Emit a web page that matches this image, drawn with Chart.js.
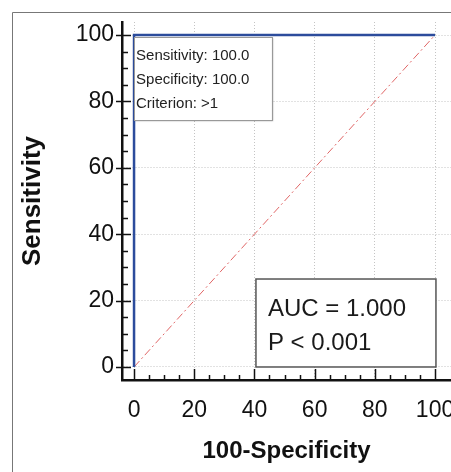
<!DOCTYPE html>
<html>
<head>
<meta charset="utf-8">
<script src="https://cdn.jsdelivr.net/npm/chart.js@4"></script>
<style>
  html, body { margin: 0; padding: 0; background: #fff; }
  #roc { display: block; }
</style>
</head>
<body>
<canvas id="roc" width="451" height="472"></canvas>
<script>
const xTicks = [0, 20, 40, 60, 80, 100];
const yTicks = [0, 20, 40, 60, 80, 100];
const rocX = [0, 0, 100];
const rocY = [0, 100, 100];
const refX = [0, 100];
const refY = [0, 100];
const statLines = ['Sensitivity: 100.0', 'Specificity: 100.0', 'Criterion: >1'];
const aucLines = ['AUC = 1.000', 'P < 0.001'];

const FONT = '"Liberation Sans", Arial, Helvetica, sans-serif';
Chart.defaults.font.family = FONT;
Chart.defaults.color = '#111';

const toPoints = (xs, ys) => xs.map((x, i) => ({ x, y: ys[i] }));

// frame, inward tick marks and the two text boxes
const extras = {
    id: 'extras',
    beforeDraw(chart) {
        const { ctx, width, height } = chart;
        ctx.save();
        ctx.strokeStyle = '#777';
        ctx.lineWidth = 1;
        ctx.beginPath();
        ctx.moveTo(12.5, height);
        ctx.lineTo(12.5, 12.5);
        ctx.lineTo(width, 12.5);
        ctx.stroke();
        ctx.restore();
    },
    afterDraw(chart) {
        const { ctx, chartArea } = chart;
        const xs = chart.scales.x, ys = chart.scales.y;
        ctx.save();
        ctx.strokeStyle = '#111';
        ctx.lineWidth = 1.5;
        for (let v = 0; v <= 100; v += 5) {
            const major = v % 20 === 0;
            const py = Math.round(ys.getPixelForValue(v)) + 0.5;
            const px = Math.round(xs.getPixelForValue(v)) + 0.5;
            ctx.beginPath();
            ctx.moveTo(chartArea.left - (major ? 6 : 0), py);
            ctx.lineTo(chartArea.left + (major ? 9 : 6), py);
            ctx.moveTo(px, chartArea.bottom);
            ctx.lineTo(px, chartArea.bottom - (major ? 11 : 5));
            ctx.stroke();
        }

        // criterion box
        let l = xs.getPixelForValue(0), r = xs.getPixelForValue(45.8);
        let t = ys.getPixelForValue(99.4), b = ys.getPixelForValue(74.4);
        ctx.save();
        ctx.shadowColor = 'rgba(0,0,0,0.35)';
        ctx.shadowOffsetX = 1;
        ctx.shadowOffsetY = 1;
        ctx.shadowBlur = 1.5;
        ctx.fillStyle = '#fff';
        ctx.fillRect(l, t, r - l, b - t);
        ctx.restore();
        ctx.strokeStyle = '#999';
        ctx.lineWidth = 1;
        ctx.strokeRect(Math.round(l) + 0.5, Math.round(t) + 0.5, Math.round(r - l), Math.round(b - t));
        ctx.fillStyle = '#222';
        ctx.font = '15px ' + FONT;
        ctx.textBaseline = 'alphabetic';
        ctx.textAlign = 'left';
        statLines.forEach((s, i) => ctx.fillText(s, l + 2, t + 23 + i * 24));

        // AUC box
        l = xs.getPixelForValue(40.5); r = xs.getPixelForValue(100.3);
        t = ys.getPixelForValue(26.5); b = ys.getPixelForValue(0);
        ctx.fillStyle = '#fff';
        ctx.fillRect(l, t, r - l, b - t);
        ctx.strokeStyle = '#555';
        ctx.lineWidth = 1.5;
        ctx.strokeRect(l, t, r - l, b - t);
        ctx.fillStyle = '#1a1a1a';
        ctx.font = '24px ' + FONT;
        aucLines.forEach((s, i) => ctx.fillText(s, l + 12, t + 37 + i * 34));
        ctx.restore();
    }
};

new Chart(document.getElementById('roc'), {
    type: 'scatter',
    data: {
        datasets: [
            {
                data: toPoints(rocX, rocY),
                showLine: true,
                borderColor: '#2c4c9c',
                borderWidth: 2.5,
                pointRadius: 0,
                tension: 0,
                order: 1
            },
            {
                data: toPoints(refX, refY),
                showLine: true,
                borderColor: '#e06666',
                borderWidth: 1,
                borderDash: [8, 3, 2, 3],
                pointRadius: 0,
                order: 2
            }
        ]
    },
    options: {
        responsive: false,
        animation: false,
        layout: { padding: { top: 22, left: 0, right: 0, bottom: 0 } },
        plugins: {
            legend: { display: false },
            tooltip: { enabled: false }
        },
        scales: {
            x: {
                type: 'linear',
                min: -4,
                max: 105.3,
                afterBuildTicks: s => { s.ticks = xTicks.map(value => ({ value })); },
                afterFit: s => { s.height = 92; s.paddingLeft = 0; s.paddingRight = 0; },
                grid: { color: '#c4c4c4', lineWidth: 1, drawTicks: false },
                border: { display: true, color: '#111', width: 2.5, dash: [1, 2] },
                ticks: { font: { size: 23 }, color: '#111', padding: 17, maxRotation: 0, autoSkip: false },
                title: {
                    display: true,
                    text: '100-Specificity',
                    font: { size: 24, weight: 'bold' },
                    color: '#111',
                    padding: { top: 0, bottom: 6 }
                }
            },
            y: {
                type: 'linear',
                min: -3.92,
                max: 103.92,
                afterBuildTicks: s => { s.ticks = yTicks.map(value => ({ value })); },
                afterFit: s => { s.width = 122; s.paddingTop = 0; s.paddingBottom = 0; },
                grid: { color: '#c4c4c4', lineWidth: 1, drawTicks: false },
                border: { display: true, color: '#111', width: 2.5, dash: [1, 2] },
                ticks: { font: { size: 23 }, color: '#111', padding: 8, autoSkip: false },
                title: {
                    display: true,
                    text: 'Sensitivity',
                    font: { size: 26, weight: 'bold' },
                    color: '#111',
                    padding: { top: 17, bottom: 0 }
                }
            }
        }
    },
    plugins: [extras]
});
</script>
</body>
</html>
